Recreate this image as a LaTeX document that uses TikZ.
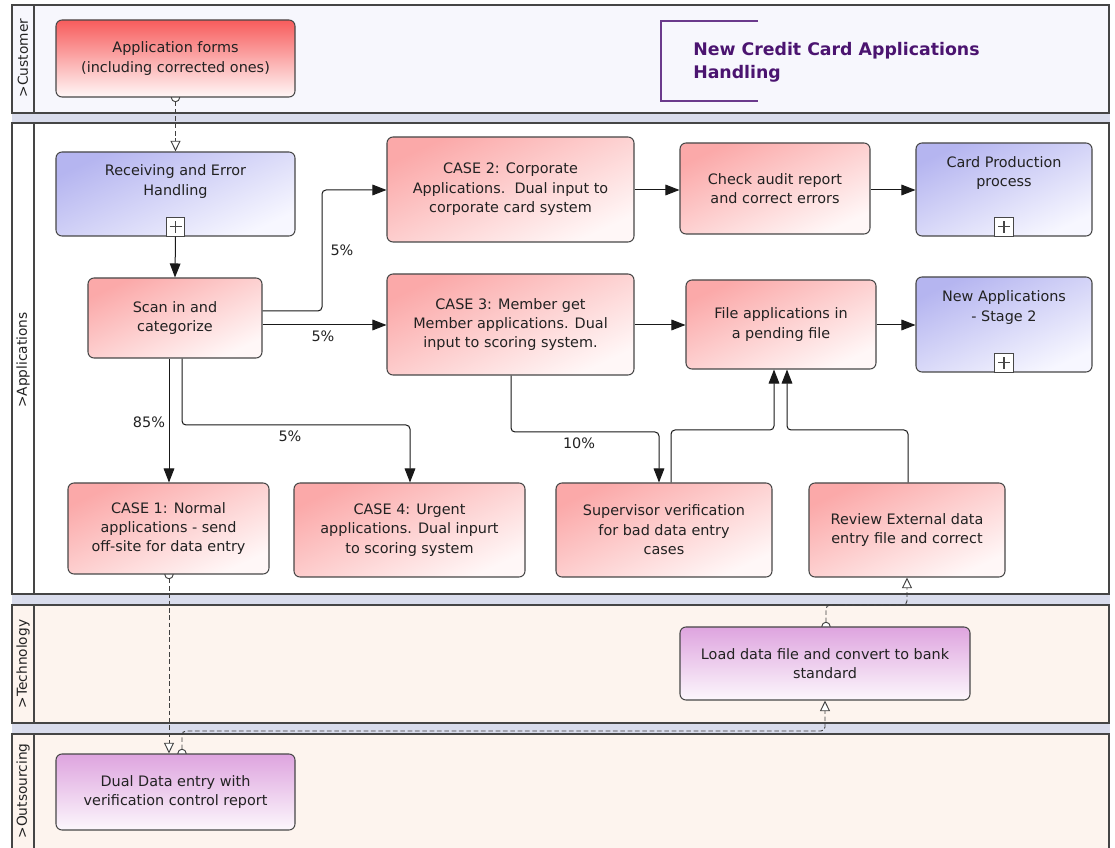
\documentclass[tikz,border=0pt]{standalone}
\usepackage{fontspec}
\setmainfont{DejaVu Sans}
\usetikzlibrary{arrows.meta}
\pgfdeclarelayer{lanes}
\pgfdeclarelayer{flows}
\pgfsetlayers{lanes,flows,main}
\definecolor{lanebd}{HTML}{454545}
\definecolor{gapc}{HTML}{D9DCEC}
\definecolor{custc}{HTML}{F7F7FD}
\definecolor{peach}{HTML}{FDF4EE}
\definecolor{boxbd}{HTML}{474747}
\definecolor{redtop}{HTML}{FBA9A9}
\definecolor{redbot}{HTML}{FFF7F7}
\definecolor{redstrong}{HTML}{F75C5C}
\definecolor{bluetop}{HTML}{B5B5F0}
\definecolor{bluebot}{HTML}{F7F7FF}
\definecolor{purtop}{HTML}{DEA4DF}
\definecolor{purbot}{HTML}{FCF7FC}
\definecolor{titlec}{HTML}{4B1470}
\definecolor{bracketc}{HTML}{6B3A8C}
\definecolor{txt}{HTML}{222222}
\newcommand{\bx}[7]{\node[#6, minimum width={(#3-#1)*0.75pt}, minimum height={(#4-#2)*0.75pt}] (#5) at ({(#1+#3)/2},{(#2+#4)/2}) {#7};}
\tikzset{
  boxbase/.style={draw=boxbd, line width=0.8pt, rounded corners=4.5pt, align=center, inner sep=1pt, font=\fontsize{10.8}{14.6}\selectfont, text=txt},
  redbox/.style={boxbase, top color=redtop, bottom color=redbot, shading angle=25},
  strongbox/.style={boxbase, top color=redstrong, bottom color=redbot},
  bluebox/.style={boxbase, top color=bluetop, bottom color=bluebot, shading angle=25},
  purbox/.style={boxbase, top color=purtop, bottom color=purbot},
  boxtext/.style={align=center, inner sep=0pt, font=\fontsize{10.8}{14.6}\selectfont, text=txt},
  pct/.style={inner sep=0pt, font=\fontsize{10.8}{13}\selectfont, text=txt},
  lanelabel/.style={rotate=90, inner sep=0pt, font=\fontsize{10.3}{12}\selectfont, text=txt},
  plusbox/.style={draw=boxbd, fill=white, line width=0.7pt, minimum size=14pt, inner sep=0pt,
    path picture={\draw[line width=0.9pt] ([xshift=-4.5pt]path picture bounding box.center) -- ([xshift=4.5pt]path picture bounding box.center)
      ([yshift=-4.5pt]path picture bounding box.center) -- ([yshift=4.5pt]path picture bounding box.center);}},
  seq/.style={draw=black!90, line width=0.75pt, rounded corners=3pt, -{Triangle[length=10.5pt,width=8pt]}},
  msg/.style={draw=black!75, line width=0.7pt, rounded corners=3pt, dash pattern=on 3.5pt off 2pt,
    {Circle[fill=white,length=7pt]}-{Triangle[fill=white,length=8pt,width=7.5pt]}},
}
\begin{document}
\begin{tikzpicture}[x=0.75pt,y=-0.75pt]
\useasboundingbox (0,0) rectangle (1115,848);
% lanes
\begin{pgfonlayer}{lanes}
\fill[gapc] (12,5) rectangle (1110,852);
\draw[lanebd, line width=0.8pt, fill=custc] (12,5) rectangle (1109,113);
\draw[lanebd, line width=0.8pt] (34,5) -- (34,113);
\draw[lanebd, line width=0.8pt, fill=white] (12,123) rectangle (1109,594);
\draw[lanebd, line width=0.8pt] (34,123) -- (34,594);
\draw[lanebd, line width=0.8pt, fill=peach] (12,605) rectangle (1109,723);
\draw[lanebd, line width=0.8pt] (34,605) -- (34,723);
\draw[lanebd, line width=0.8pt, fill=peach] (12,734) rectangle (1109,870);
\draw[lanebd, line width=0.8pt] (34,734) -- (34,870);
\end{pgfonlayer}
\node[lanelabel] (lC) at (23,58) {>Customer};
\node[lanelabel] (lA) at (23,360) {>Applications};
\node[lanelabel] (lT) at (23,664) {>Technology};
\node[lanelabel] (lO) at (23,791) {>Outsourcing};
% title
\draw[bracketc, line width=0.8pt] (758,21) -- (661,21) -- (661,101) -- (758,101);
\node[anchor=north west, inner sep=0pt, align=left, font=\fontsize{13}{17.25}\bfseries\selectfont, text=titlec] (title) at (693,42) {New Credit Card Applications\\Handling};
% boxes
\bx{56}{20}{295}{97}{appf}{strongbox}{Application forms\\(including corrected ones)}
\bx{56}{152}{295}{236}{rcv}{bluebox}{}
\node[boxtext] (rcvT) at (175.5,181.5) {Receiving and Error\\Handling};
\node[plusbox, anchor=south] (rcvP) at (rcv.south) {};
\bx{88}{278}{262}{358}{scan}{redbox}{Scan in and\\categorize}
\bx{387}{137}{634}{242}{case2}{redbox}{CASE 2: Corporate\\Applications.\ \ Dual input to\\corporate card system}
\bx{680}{143}{870}{234}{check}{redbox}{Check audit report\\and correct errors}
\bx{916}{143}{1092}{236}{card}{bluebox}{}
\node[boxtext] (cardT) at (1004,173) {Card Production\\process};
\node[plusbox, anchor=south] (cardP) at (card.south) {};
\bx{387}{274}{634}{375}{case3}{redbox}{CASE 3: Member get\\Member applications. Dual\\input to scoring system.}
\bx{686}{280}{876}{369}{file}{redbox}{File applications in\\a pending file}
\bx{916}{277}{1092}{372}{newapp}{bluebox}{}
\node[boxtext] (newappT) at (1004,307.5) {New Applications\\- Stage 2};
\node[plusbox, anchor=south] (newappP) at (newapp.south) {};
\bx{68}{483}{269}{574}{case1}{redbox}{CASE 1: Normal\\applications - send\\off-site for data entry}
\bx{294}{483}{525}{577}{case4}{redbox}{CASE 4: Urgent\\applications. Dual inpurt\\to scoring system}
\bx{556}{483}{772}{577}{sup}{redbox}{Supervisor verification\\for bad data entry\\cases}
\bx{809}{483}{1005}{577}{review}{redbox}{Review External data\\entry file and correct}
\bx{680}{627}{970}{700}{load}{purbox}{Load data file and convert to bank\\standard}
\bx{56}{754}{295}{830}{dual}{purbox}{Dual Data entry with\\verification control report}
% sequence flows
\draw[seq] (rcv.south) -- (scan.north);
\draw[seq] (scan.east |- 0,311) -- (322,311) |- (case2.west |- 0,190);
\node[pct] (p1) at (342,250) {5\%};
\draw[seq] (scan.east |- 0,325) -- (case3.west |- 0,325);
\node[pct] (p2) at (323,336) {5\%};
\draw[seq] (scan.south -| 169,0) -- (case1.north -| 169,0);
\node[pct] (p3) at (149,422) {85\%};
\draw[seq] (scan.south -| 182,0) |- (410,425) -- (case4.north -| 410,0);
\node[pct] (p4) at (290,436) {5\%};
\draw[seq] (case2.east |- 0,190) -- (check.west |- 0,190);
\draw[seq] (check.east |- 0,190) -- (card.west |- 0,190);
\draw[seq] (case3.east |- 0,325) -- (file.west |- 0,325);
\draw[seq] (file.east |- 0,325) -- (newapp.west |- 0,325);
\draw[seq] (case3.south -| 511,0) |- (659,432) -- (sup.north -| 659,0);
\node[pct] (p5) at (579,443) {10\%};
\draw[seq] (sup.north -| 671,0) |- (774,430) -- (file.south -| 774,0);
\draw[seq] (review.north -| 908,0) |- (787,430) -- (file.south -| 787,0);
% message flows
\begin{pgfonlayer}{flows}
\draw[msg] ([yshift=3.5pt]appf.south) -- (rcv.north);
\draw[msg] ([yshift=3.5pt]case1.south -| 169,0) -- (dual.north -| 169,0);
\draw[msg] ([yshift=-3.5pt]dual.north -| 182,0) |- (825,731) -- (load.south -| 825,0);
\draw[msg] ([yshift=-3.5pt]load.north -| 826,0) |- (907,605) -- (review.south -| 907,0);
\end{pgfonlayer}
\end{tikzpicture}
\end{document}
